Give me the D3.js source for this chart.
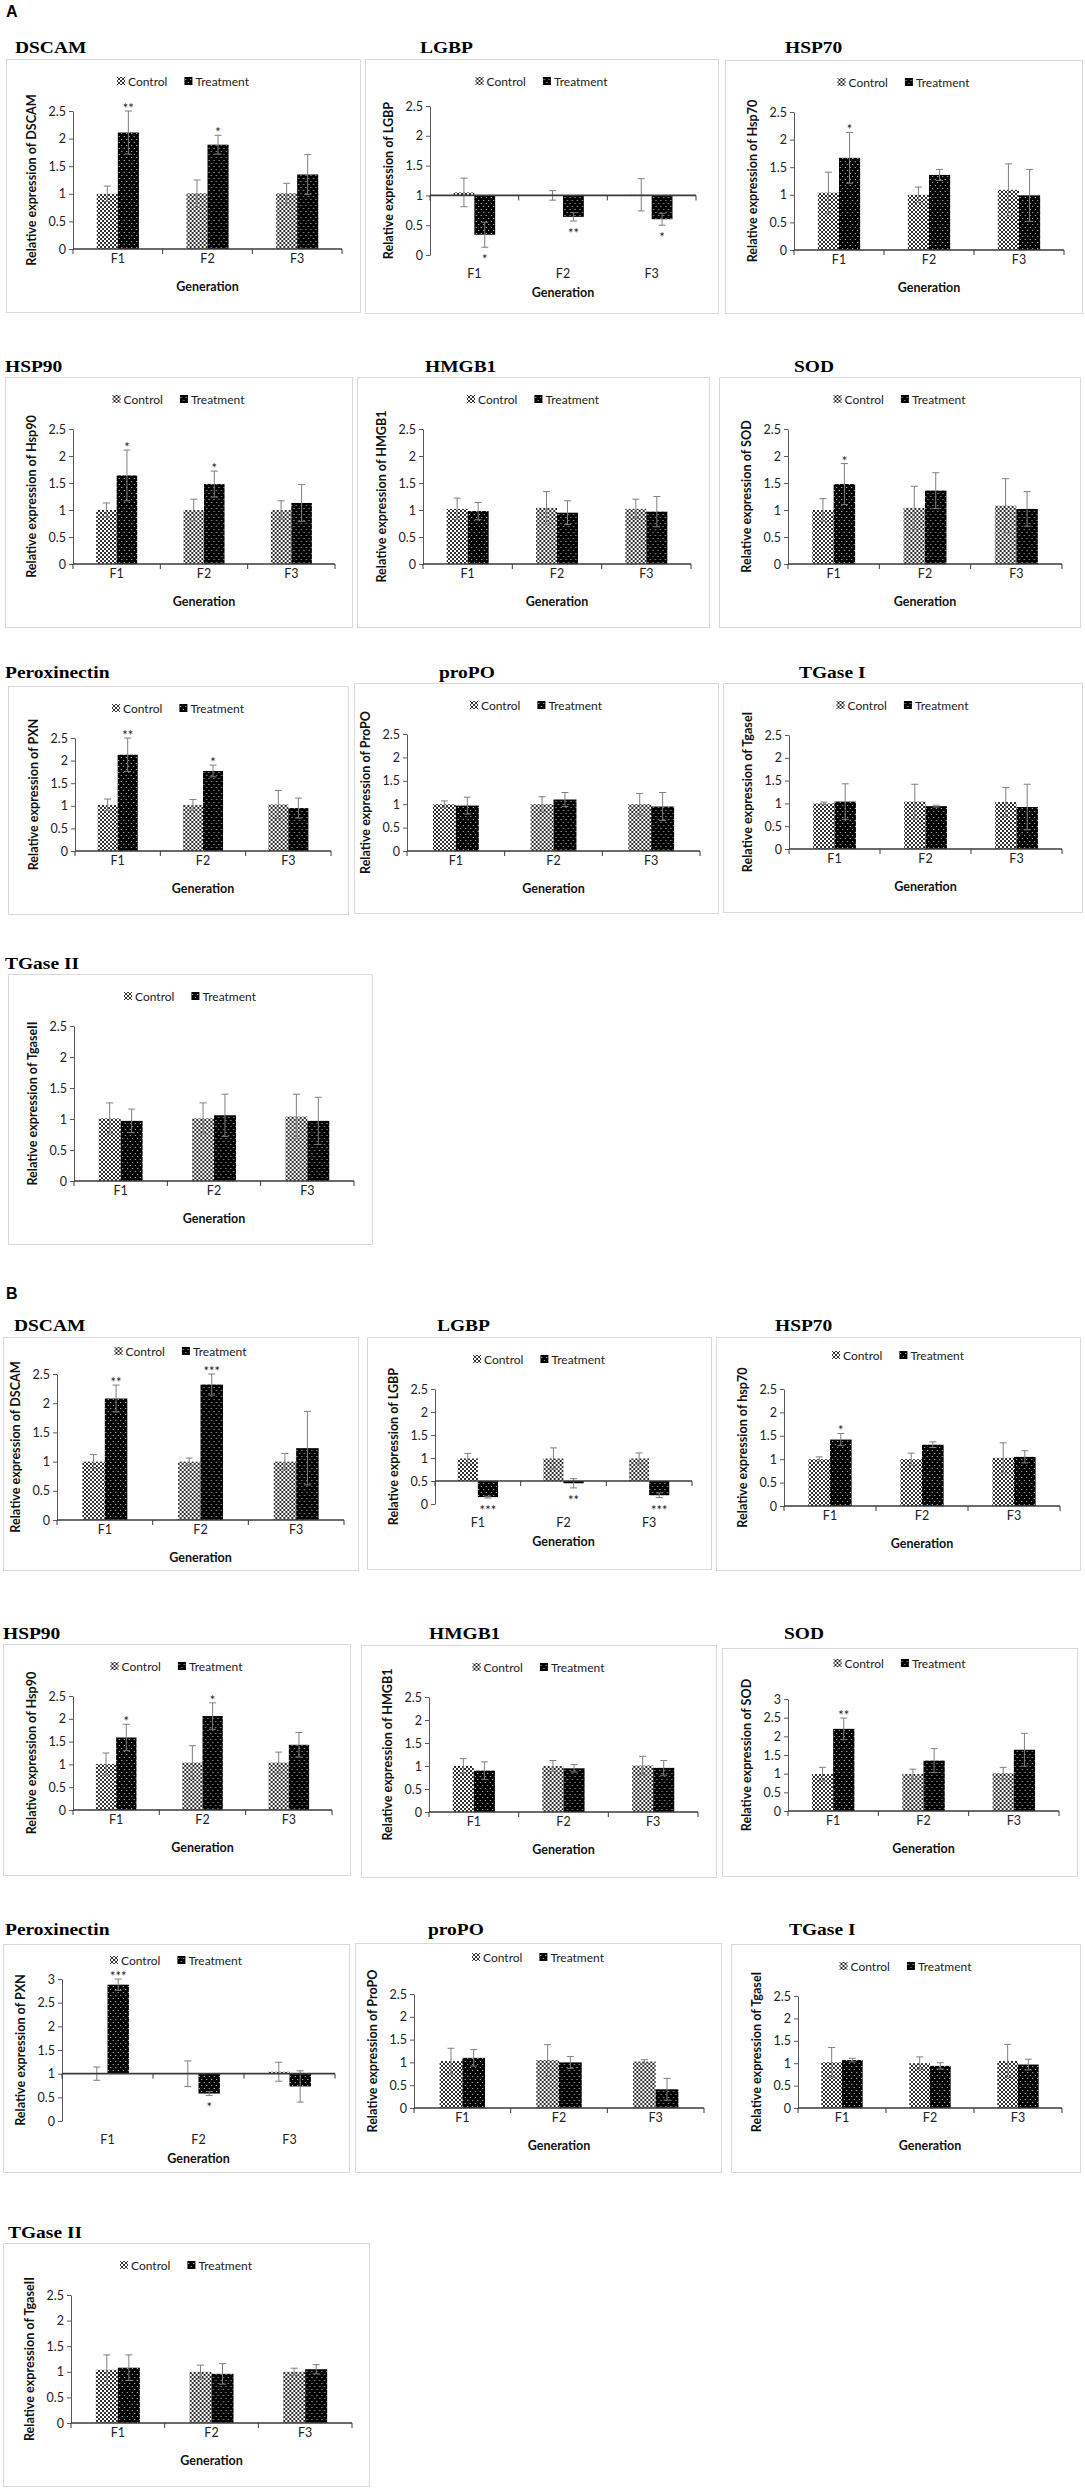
<!DOCTYPE html>
<html>
<head>
<meta charset="utf-8">
<script src="https://cdn.jsdelivr.net/npm/d3@7"></script>
<style>
  body { margin: 0; background: #fff; }
  svg text { font-family: Lato, "Liberation Sans", sans-serif; }
  .title { font-family: "Liberation Serif", "Times New Roman", serif !important; font-weight: bold; font-size: 16.5px; }
  .part { font-family: "Liberation Sans", Arial, sans-serif !important; font-weight: bold; font-size: 16px; }
</style>
</head>
<body>
<div id="chart"></div>
<script>
// qPCR relative expression, control vs treatment over three generations
const generations = ["F1", "F2", "F3"];
const series = ["Control", "Treatment"];
const genes = ["DSCAM", "LGBP", "HSP70", "HSP90", "HMGB1", "SOD", "Peroxinectin", "proPO", "TGase I", "TGase II"];
const yTitlesA = ["DSCAM", "LGBP", "Hsp70", "Hsp90", "HMGB1", "SOD", "PXN", "ProPO", "TgaseI", "TgaseII"];
const yTitlesB = ["DSCAM", "LGBP", "hsp70", "Hsp90", "HMGB1", "SOD", "PXN", "ProPO", "TgaseI", "TgaseII"];

// axis maximum and the value where the category axis crosses
const yMaxA = [2.5, 2.5, 2.5, 2.5, 2.5, 2.5, 2.5, 2.5, 2.5, 2.5];
const yMaxB = [2.5, 2.5, 2.5, 2.5, 2.5, 3, 3, 2.5, 2.5, 2.5];
const baseA = [0, 1, 0, 0, 0, 0, 0, 0, 0, 0];
const baseB = [0, 0.5, 0, 0, 0, 0, 1, 0, 0, 0];

// panel A
const controlA = [
  [1.00, 1.01, 1.01], [1.05, 1.00, 1.01], [1.04, 1.00, 1.09], [1.00, 1.00, 1.00], [1.02, 1.04, 1.02],
  [1.00, 1.04, 1.08], [1.02, 1.02, 1.03], [1.00, 1.00, 1.00], [1.00, 1.04, 1.03], [1.01, 1.01, 1.04]
];
const controlErrA = [
  [0.14, 0.24, 0.18], [0.24, 0.08, 0.27], [0.37, 0.14, 0.47], [0.13, 0.20, 0.17], [0.20, 0.30, 0.18],
  [0.21, 0.40, 0.50], [0.13, 0.12, 0.31], [0.07, 0.16, 0.23], [0.03, 0.38, 0.32], [0.25, 0.25, 0.36]
];
const treatA = [
  [2.11, 1.89, 1.35], [0.34, 0.64, 0.60], [1.67, 1.36, 0.99], [1.64, 1.48, 1.13], [0.98, 0.95, 0.97],
  [1.48, 1.36, 1.02], [2.13, 1.77, 0.95], [0.97, 1.10, 0.95], [1.04, 0.94, 0.92], [0.97, 1.06, 0.97]
];
const treatErrA = [
  [0.39, 0.17, 0.36], [0.21, 0.07, 0.10], [0.46, 0.10, 0.47], [0.47, 0.24, 0.34], [0.16, 0.22, 0.28],
  [0.38, 0.33, 0.32], [0.37, 0.13, 0.22], [0.18, 0.15, 0.30], [0.39, 0.02, 0.50], [0.19, 0.34, 0.38]
];
const starsA = [
  ["**", "*", ""], ["*", "**", "*"], ["*", "", ""], ["*", "*", ""], ["", "", ""],
  ["*", "", ""], ["**", "*", ""], ["", "", ""], ["", "", ""], ["", "", ""]
];

// panel B
const controlB = [
  [1.00, 1.00, 1.00], [0.99, 0.99, 0.99], [1.00, 1.00, 1.03], [1.01, 1.04, 1.04], [1.00, 1.00, 1.01],
  [0.99, 0.99, 1.01], [1.00, 1.00, 1.04], [1.03, 1.05, 1.02], [1.02, 1.00, 1.05], [1.04, 1.00, 1.00]
];
const controlErrB = [
  [0.12, 0.06, 0.14], [0.11, 0.23, 0.12], [0.05, 0.13, 0.32], [0.24, 0.37, 0.23], [0.16, 0.12, 0.20],
  [0.18, 0.13, 0.16], [0.14, 0.27, 0.20], [0.28, 0.34, 0.04], [0.33, 0.14, 0.37], [0.29, 0.13, 0.07]
];
const treatB = [
  [2.08, 2.32, 1.23], [0.15, 0.45, 0.19], [1.42, 1.31, 1.05], [1.59, 2.06, 1.43], [0.90, 0.95, 0.96],
  [2.20, 1.35, 1.64], [2.88, 0.58, 0.73], [1.10, 1.00, 0.41], [1.07, 0.94, 0.97], [1.08, 0.96, 1.05]
];
const treatErrB = [
  [0.23, 0.18, 0.63], [0.02, 0.10, 0.05], [0.13, 0.06, 0.13], [0.29, 0.29, 0.27], [0.19, 0.08, 0.16],
  [0.29, 0.32, 0.44], [0.12, 0.04, 0.33], [0.18, 0.13, 0.24], [0.04, 0.07, 0.12], [0.25, 0.20, 0.09]
];
const starsB = [
  ["**", "***", ""], ["***", "**", "***"], ["*", "", ""], ["*", "*", ""], ["", "", ""],
  ["**", "", ""], ["***", "*", ""], ["", "", ""], ["", "", ""], ["", "", ""]
];

// where each small chart box sits on the page
const boxesA = [
  { x: 6, y: 59, w: 354, h: 253, tx: 15, ty: 53 },
  { x: 365, y: 59, w: 353, h: 254, tx: 420, ty: 53, ml: 65, mr: 22, mt: 47, mb: 58 },
  { x: 725, y: 60, w: 357, h: 253, tx: 785, ty: 53, ml: 69 },
  { x: 5, y: 377, w: 347, h: 250, tx: 5, ty: 372, ml: 68, mr: 17 },
  { x: 357, y: 377, w: 352, h: 250, tx: 425, ty: 372, ml: 66 },
  { x: 719, y: 377, w: 361, h: 250, tx: 794, ty: 372, ml: 69 },
  { x: 8, y: 686, w: 340, h: 228, tx: 5, ty: 678, mr: 17 },
  { x: 354, y: 683, w: 364, h: 230, tx: 439, ty: 678, ml: 53, mt: 51, mb: 62 },
  { x: 723, y: 683, w: 359, h: 229, tx: 799, ty: 678, ml: 66, mr: 20 },
  { x: 8, y: 974, w: 364, h: 270, tx: 5, ty: 969, ml: 66 }
];
const boxesB = [
  { x: 3, y: 1337, w: 355, h: 233, tx: 14, ty: 1331, ml: 54, mr: 14, mt: 37, mb: 50, leg: 14 },
  { x: 367, y: 1337, w: 344, h: 232, tx: 437, ty: 1331, ml: 68, mr: 19, mb: 65 },
  { x: 716, y: 1337, w: 364, h: 233, tx: 775, ty: 1331, ml: 68, mr: 20, mb: 64, leg: 18 },
  { x: 3, y: 1644, w: 347, h: 231, tx: 3, ty: 1639, ml: 70, mb: 65 },
  { x: 361, y: 1645, w: 355, h: 232, tx: 429, ty: 1639, ml: 68, mb: 65 },
  { x: 722, y: 1648, w: 355, h: 228, tx: 784, ty: 1639, ml: 66, mt: 51, mb: 65, leg: 15 },
  { x: 3, y: 1944, w: 346, h: 228, tx: 5, ty: 1935, ml: 59, mr: 14, mt: 35, mb: 51, leg: 16 },
  { x: 355, y: 1943, w: 366, h: 229, tx: 428, ty: 1935, ml: 59, mr: 17, mt: 51, mb: 64, leg: 14 },
  { x: 731, y: 1944, w: 349, h: 228, tx: 789, ty: 1935, ml: 67, mb: 64 },
  { x: 3, y: 2243, w: 366, h: 243, tx: 8, ty: 2238, ml: 68, mr: 17 }
];

const svg = d3.select("#chart")
  .append("svg")
  .attr("width", 1085)
  .attr("height", 2490);

svg.append("rect").attr("width", 1085).attr("height", 2490).attr("fill", "#fff");

// bar fills: lattice for control, white dots on black for treatment
const defs = svg.append("defs");
const patCtrl = defs.append("pattern")
  .attr("id", "pat-control")
  .attr("patternUnits", "userSpaceOnUse")
  .attr("width", 4).attr("height", 4);
patCtrl.append("rect").attr("width", 4).attr("height", 4).attr("fill", "#fff");
patCtrl.append("path")
  .attr("d", "M0,0L4,4M4,0L0,4")
  .attr("stroke", "#1a1a1a")
  .attr("stroke-width", 0.9);

const patTrt = defs.append("pattern")
  .attr("id", "pat-treat")
  .attr("patternUnits", "userSpaceOnUse")
  .attr("width", 5).attr("height", 6);
patTrt.append("rect").attr("width", 5).attr("height", 6).attr("fill", "#000");
patTrt.append("rect").attr("x", 0.8).attr("y", 1).attr("width", 0.9).attr("height", 0.9).attr("fill", "#fff");
patTrt.append("rect").attr("x", 3.3).attr("y", 4).attr("width", 0.9).attr("height", 0.9).attr("fill", "#fff");

const fills = { Control: "url(#pat-control)", Treatment: "url(#pat-treat)" };

function drawPanel(p) {
  const L = p.box;
  const ml = L.ml ?? 67, mr = L.mr ?? 18, mt = L.mt ?? 52, mb = L.mb ?? 63;
  const pw = L.w - ml - mr, ph = L.h - mt - mb;

  // the source figure is a little stretched sideways, so the titles are too
  svg.append("text")
    .attr("class", "title")
    .attr("transform", `translate(${L.tx},${L.ty}) scale(1.18,1)`)
    .text(p.gene);

  const g = svg.append("g").attr("transform", `translate(${L.x},${L.y})`);
  g.append("rect")
    .attr("x", 0.5).attr("y", 0.5)
    .attr("width", L.w).attr("height", L.h)
    .attr("fill", "#fff")
    .attr("stroke", "#d9d9d9");

  // legend, centred in the box
  const leg = g.append("g");
  let lx = 0;
  series.forEach((s, i) => {
    if (i > 0) lx += 17;
    leg.append("rect")
      .attr("x", lx).attr("y", -4)
      .attr("width", 8).attr("height", 8)
      .attr("fill", fills[s]);
    lx += 11;
    const t = leg.append("text")
      .attr("x", lx).attr("y", 4.5)
      .style("font-size", "12px")
      .attr("fill", "#222")
      .text(s);
    lx += t.node().getComputedTextLength();
  });
  leg.attr("transform", `translate(${(L.w - lx) / 2},${L.leg ?? 22})`);

  const plot = g.append("g").attr("transform", `translate(${ml},${mt})`);

  const y = d3.scaleLinear().domain([0, p.yMax]).range([ph, 0]);
  const x = d3.scaleBand().domain(generations).range([0, pw]);
  const bw = x.bandwidth(), barW = bw * 0.235;
  const xs = d3.scaleBand().domain(series).range([bw / 2 - barW, bw / 2 + barW]);

  const yAxis = d3.axisLeft(y)
    .tickValues(d3.range(0, p.yMax + 0.01, 0.5))
    .tickSize(4)
    .tickSizeOuter(0)
    .tickFormat(d3.format(""));

  const ya = plot.append("g").attr("class", "y-axis").call(yAxis);
  ya.select(".domain").attr("stroke", "#595959");
  ya.selectAll(".tick line").attr("stroke", "#595959");
  ya.selectAll(".tick text")
    .attr("x", -7)
    .style("font-size", "12.5px")
    .style("font-family", "Lato, sans-serif")
    .attr("fill", "#222");

  plot.append("text")
    .attr("transform", `translate(-42,${ph / 2}) rotate(-90)`)
    .attr("text-anchor", "middle")
    .attr("dominant-baseline", "central")
    .style("font-size", "12.6px")
    .style("font-weight", "bold")
    .attr("fill", "#111")
    .text("Relative expression of " + p.yTitle);

  const rows = generations.map((gen, i) => ({
    gen,
    star: p.stars[i],
    vals: [
      { s: "Control", v: p.ctrl[i], e: p.ctrlErr[i] },
      { s: "Treatment", v: p.trt[i], e: p.trtErr[i] }
    ]
  }));

  const yb = y(p.base);
  const groups = plot.selectAll(".gen")
    .data(rows)
    .enter()
    .append("g")
    .attr("class", "gen")
    .attr("transform", d => `translate(${x(d.gen)},0)`);

  groups.selectAll(".bar")
    .data(d => d.vals)
    .enter()
    .append("rect")
    .attr("class", "bar")
    .attr("x", d => xs(d.s))
    .attr("width", xs.bandwidth())
    .attr("y", d => Math.min(y(d.v), yb))
    .attr("height", d => Math.abs(y(d.v) - yb))
    .attr("fill", d => fills[d.s]);

  // category axis at the crossing value
  plot.append("line")
    .attr("x1", 0).attr("x2", pw)
    .attr("y1", yb).attr("y2", yb)
    .attr("stroke", "#3a3a3a")
    .attr("stroke-width", 1.6);
  plot.selectAll(".xtick")
    .data(d3.range(generations.length + 1))
    .enter()
    .append("line")
    .attr("class", "xtick")
    .attr("x1", d => d * bw).attr("x2", d => d * bw)
    .attr("y1", yb).attr("y2", yb + 5)
    .attr("stroke", "#3a3a3a");

  const labelY = y(0) + (p.base > 0 ? 23 : 13.5);
  plot.selectAll(".xlab")
    .data(generations)
    .enter()
    .append("text")
    .attr("class", "xlab")
    .attr("x", d => x(d) + bw / 2)
    .attr("y", labelY)
    .attr("text-anchor", "middle")
    .style("font-size", "12.5px")
    .attr("fill", "#222")
    .text(d => d);

  plot.append("text")
    .attr("x", pw / 2)
    .attr("y", y(0) + 41.5)
    .attr("text-anchor", "middle")
    .style("font-size", "12.5px")
    .style("font-weight", "bold")
    .attr("fill", "#111")
    .text("Generation");

  // error bars
  const err = groups.selectAll(".err")
    .data(d => d.vals)
    .enter()
    .append("g")
    .attr("class", "err")
    .attr("stroke", "#7f7f7f")
    .attr("stroke-width", 1);
  const cx = d => xs(d.s) + xs.bandwidth() / 2;
  err.append("line")
    .attr("x1", cx).attr("x2", cx)
    .attr("y1", d => y(d.v - d.e)).attr("y2", d => y(d.v + d.e));
  err.append("line")
    .attr("x1", d => cx(d) - 3.5).attr("x2", d => cx(d) + 3.5)
    .attr("y1", d => y(d.v + d.e)).attr("y2", d => y(d.v + d.e));
  err.append("line")
    .attr("x1", d => cx(d) - 3.5).attr("x2", d => cx(d) + 3.5)
    .attr("y1", d => y(d.v - d.e)).attr("y2", d => y(d.v - d.e));

  // significance marks on the treatment bar
  groups.append("text")
    .attr("x", xs("Treatment") + xs.bandwidth() / 2)
    .attr("y", d => {
      const t = d.vals[1];
      return t.v >= p.base ? y(t.v + t.e) + 2 : y(t.v - t.e) + 17;
    })
    .attr("text-anchor", "middle")
    .style("font-size", "13px")
    .attr("fill", "#222")
    .text(d => d.star);
}

svg.append("text").attr("class", "part").attr("x", 6).attr("y", 17).text("A");
svg.append("text").attr("class", "part").attr("x", 6).attr("y", 1299).text("B");

genes.forEach((gene, i) => {
  drawPanel({
    gene, yTitle: yTitlesA[i], yMax: yMaxA[i], base: baseA[i], box: boxesA[i],
    ctrl: controlA[i], ctrlErr: controlErrA[i], trt: treatA[i], trtErr: treatErrA[i], stars: starsA[i]
  });
});
genes.forEach((gene, i) => {
  drawPanel({
    gene, yTitle: yTitlesB[i], yMax: yMaxB[i], base: baseB[i], box: boxesB[i],
    ctrl: controlB[i], ctrlErr: controlErrB[i], trt: treatB[i], trtErr: treatErrB[i], stars: starsB[i]
  });
});
</script>
</body>
</html>
